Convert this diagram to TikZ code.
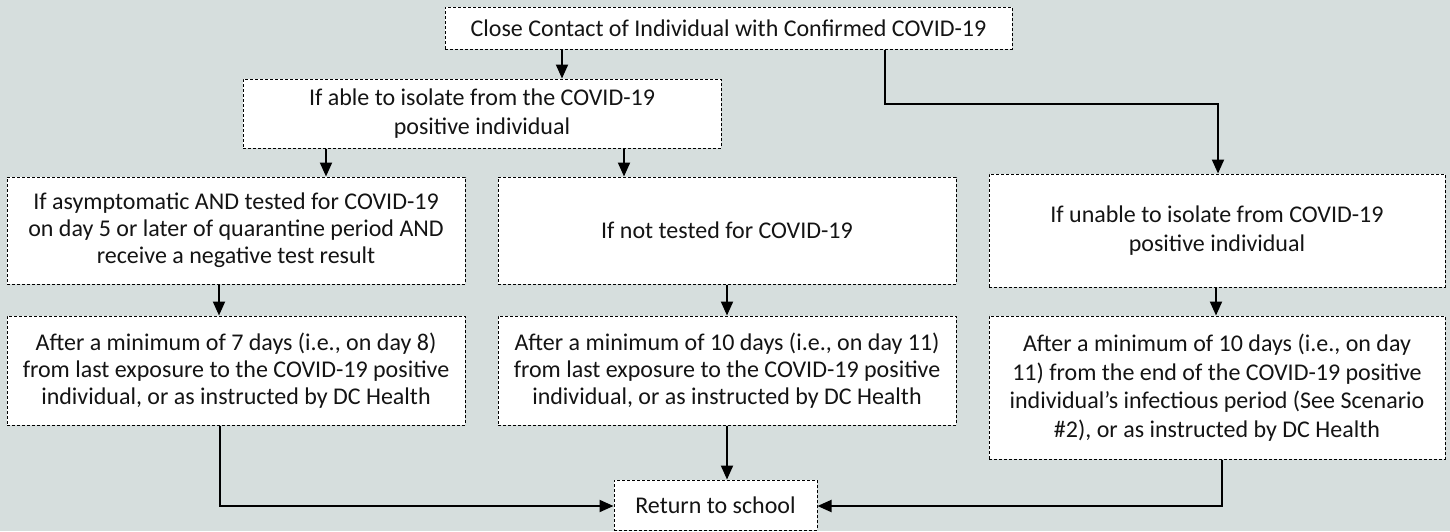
\documentclass[tikz,border=0pt]{standalone}
\usepackage{fontspec}
\setmainfont{Carlito}
\usetikzlibrary{arrows.meta}
\definecolor{bgc}{RGB}{214,222,221}
\tikzset{
  box/.style={draw=black, fill=white, line width=1pt, dash pattern=on 3pt off 2pt,
    align=center, inner sep=0pt, font=\fontsize{24}{27}\selectfont, text=black!92},
  wide/.style={font=\fontsize{24}{28.5}\selectfont},
  conn/.style={line width=2pt, -{Triangle[width=12pt,length=14pt]}}
}
\begin{document}
\begin{tikzpicture}[x=1pt,y=-1pt]
\fill[bgc] (0,0) rectangle (1450,531);
\useasboundingbox (0,0) rectangle (1450,531);
\node[box, minimum width=567pt, minimum height=42pt] (top) at (728.5,28) {Close Contact of Individual with Confirmed COVID-19};
\node[box, wide, minimum width=478pt, minimum height=69pt] (iso) at (482,113.5) {If able to isolate from the COVID-19\\positive individual};
\node[box, minimum width=458pt, minimum height=107pt] (A) at (236,230.5) {If asymptomatic AND tested for COVID-19\\on day 5 or later of quarantine period AND\\receive a negative test result};
\node[box, minimum width=458pt, minimum height=107pt] (B) at (727,230.5) {If not tested for COVID-19};
\node[box, wide, minimum width=456pt, minimum height=113pt] (C) at (1217,230.5) {If unable to isolate from COVID-19\\positive individual};
\node[box, minimum width=458pt, minimum height=109pt] (D) at (236,370.5) {After a minimum of 7 days (i.e., on day 8)\\from last exposure to the COVID-19 positive\\individual, or as instructed by DC Health};
\node[box, minimum width=458pt, minimum height=109pt] (E) at (727,370.5) {After a minimum of 10 days (i.e., on day 11)\\from last exposure to the COVID-19 positive\\individual, or as instructed by DC Health};
\node[box, wide, minimum width=456pt, minimum height=143pt] (F) at (1217,387.5) {After a minimum of 10 days (i.e., on day\\11) from the end of the COVID-19 positive\\individual’s infectious period (See Scenario\\\#2), or as instructed by DC Health};
\node[box, minimum width=203pt, minimum height=50pt] (R) at (715.5,505) {Return to school};
% connectors
\draw[conn] (top.south -| 562,0) -- (iso.north -| 562,0);
\draw[conn] (top.south -| 885,0) |- (1218,104) -- (C.north -| 1218,0);
\draw[conn] (iso.south -| 326,0) -- (A.north -| 326,0);
\draw[conn] (iso.south -| 624,0) -- (B.north -| 624,0);
\draw[conn] (A.south -| 219,0) -- (D.north -| 219,0);
\draw[conn] (B.south -| 727,0) -- (E.north -| 727,0);
\draw[conn] (C.south -| 1216,0) -- (F.north -| 1216,0);
\draw[conn] (E.south -| 727,0) -- (R.north -| 727,0);
\draw[conn] (D.south -| 220,0) |- (R.west |- 0,506);
\draw[conn] (F.south -| 1222,0) |- (R.east |- 0,506);
\end{tikzpicture}
\end{document}
